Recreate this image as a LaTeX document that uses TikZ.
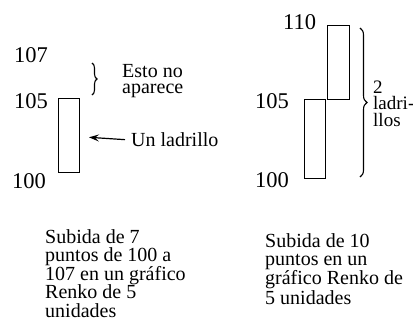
\documentclass[tikz,border=0pt]{standalone}
\usepackage{fontspec}
\setmainfont{Liberation Serif}
\usetikzlibrary{decorations.pathreplacing,arrows.meta}
\begin{document}
\begin{tikzpicture}[x=1pt,y=-1pt,
  num/.style={anchor=base west,inner sep=0pt,font=\fontsize{22.5}{22.5}\selectfont},
  lbl/.style={anchor=base west,inner sep=0pt,align=left,font=\fontsize{20}{16}\selectfont},
  capt/.style={anchor=base west,inner sep=0pt,align=left,font=\fontsize{20}{18.5}\selectfont},
  brick/.style={draw,line width=0.8pt,inner sep=0pt},
  brc/.style={decorate,line width=1.1pt}]
\useasboundingbox (0,0) rectangle (413,324);
% left chart
\node[num] (l107) at (14,63) {107};
\node[num] (l105) at (14,108) {105};
\node[num] (l100) at (12,188) {100};
\node[brick,minimum width=21pt,minimum height=74pt] (b1) at (68.5,135) {};
\coordinate (lbA) at (92,63);
\coordinate (lbB) at (92,95);
\draw[brc,decoration={brace,amplitude=5pt}] (lbA) -- (lbB);
\node[lbl] (esto) at (122,93) {Esto no\\aparece};
\node[lbl] (ul) at (131,146.5) {Un ladrillo};
\coordinate (tip) at (89,137.3);
\draw[line width=1.2pt,-{Stealth[length=10pt,width=7pt,inset=4pt]}] ([xshift=-6pt]ul.west) -- (tip);
% right chart
\node[num] (r110) at (283,30) {110};
\node[num] (r105) at (255,108) {105};
\node[num] (r100) at (255,187) {100};
\node[brick,minimum width=21pt,minimum height=79pt] (b2) at (314.5,138.5) {};
\node[brick,minimum width=22pt,minimum height=74pt] (b3) at (338,62) {};
\coordinate (rbA) at (360,28);
\coordinate (rbB) at (360,177);
\draw[brc,decoration={brace,amplitude=7pt}] (rbA) -- (rbB);
\node[lbl,font=\fontsize{19}{16.5}\selectfont] (dos) at (373,126) {2\\ladri-\\llos};
% captions
\node[capt] (c1) at (45,317) {Subida de 7\\puntos de 100 a\\107 en un gráfico\\Renko de 5\\unidades};
\node[capt,font=\fontsize{20}{17.7}\selectfont] (c2) at (265,304) {Subida de 10\\puntos en un\\gráfico Renko de\\5 unidades};
\end{tikzpicture}
\end{document}
